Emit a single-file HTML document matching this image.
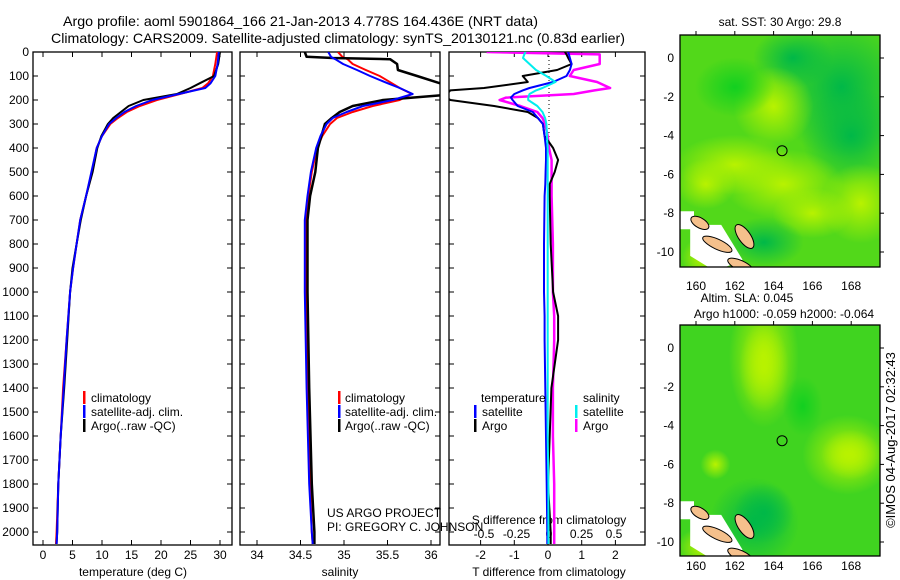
<!DOCTYPE html>
<html><head><meta charset="utf-8"><title>Argo profile</title>
<style>
html,body{margin:0;padding:0;background:#fff;}
svg{display:block;font-family:"Liberation Sans",Arial,sans-serif;}
</style></head>
<body>
<svg id="chart" width="900" height="580" viewBox="0 0 900 580" xmlns="http://www.w3.org/2000/svg">
<defs>
<clipPath id="c1"><rect x="33" y="52" width="199" height="493"/></clipPath>
<clipPath id="c2"><rect x="240" y="52" width="200" height="493"/></clipPath>
<clipPath id="c3"><rect x="449" y="52" width="196" height="493"/></clipPath>
<clipPath id="cm1"><rect x="680" y="35" width="200" height="232"/></clipPath>
<clipPath id="cm2"><rect x="680" y="325" width="200" height="231"/></clipPath>
<radialGradient id="gy1"><stop offset="0" stop-color="#b8f200"/><stop offset="1" stop-color="#b8f200" stop-opacity="0"/></radialGradient>
<radialGradient id="gd1"><stop offset="0" stop-color="#00b848"/><stop offset="1" stop-color="#00b848" stop-opacity="0"/></radialGradient>
<radialGradient id="gg1"><stop offset="0" stop-color="#12d020"/><stop offset="1" stop-color="#12d020" stop-opacity="0"/></radialGradient>
</defs>
<text x="63" y="26" font-size="14" textLength="475" lengthAdjust="spacingAndGlyphs">Argo profile: aoml 5901864_166 21-Jan-2013 4.778S 164.436E (NRT data)</text>
<text x="51" y="43" font-size="14" textLength="574" lengthAdjust="spacingAndGlyphs">Climatology: CARS2009. Satellite-adjusted climatology: synTS_20130121.nc (0.83d earlier)</text>
<g id="p1"></g>
<g id="p2"></g>
<g id="p3"></g>
<g id="m1"></g>
<g id="m2"></g>
<text transform="translate(895,440) rotate(-90)" text-anchor="middle" font-size="13">©IMOS 04-Aug-2017 02:32:43</text>
</svg>
<script>
// ---- data ----
const depthTicks = [0,100,200,300,400,500,600,700,800,900,1000,1100,1200,1300,1400,1500,1600,1700,1800,1900,2000];
const tempTicks = [0,5,10,15,20,25,30];
const salTicks = [34,34.5,35,35.5,36];
const salTickLabels = ["34","34.5","35","35.5","36"];
const tdiffTicks = [-2,-1,0,1,2];
const sdiffTicks = [-0.5,-0.25,0,0.25,0.5];
const sdiffTickLabels = ["-0.5","-0.25","0","0.25","0.5"];

const tempDepth = [0,50,100,130,150,175,200,225,250,275,300,350,400,500,600,700,800,900,1000,1200,1400,1600,1800,2000,2050];
const tempClim = [29.5,29.2,28.8,28.0,27.0,23.2,19.3,16.4,14.2,12.7,11.4,10.0,9.1,8.3,7.3,6.3,5.7,5.1,4.6,4.0,3.4,3.0,2.6,2.3,2.2];
const tempSat = [29.8,29.6,29.2,28.4,27.5,23.0,18.5,15.8,13.8,12.4,11.2,10.0,9.1,8.2,7.3,6.3,5.7,5.1,4.6,4.0,3.5,3.0,2.6,2.4,2.3];
const tempArgo = [30.0,29.7,29.0,26.6,25.0,22.7,17.0,14.5,13.2,11.9,11.0,9.9,9.2,8.4,7.3,6.4,5.7,5.0,4.6,4.1,3.6,3.0,2.6,2.4,2.3];

const salDepth = [0,20,25,30,50,75,100,130,150,175,200,225,250,275,300,350,400,500,600,700,1000,1400,1800,2000,2050];
const salClim = [34.93,34.98,35.01,35.04,35.10,35.25,35.41,35.55,35.64,35.78,35.64,35.33,35.10,34.92,34.84,34.75,34.69,34.63,34.59,34.56,34.56,34.58,34.61,34.63,34.64];
const salSat = [34.82,34.85,34.87,34.90,34.99,35.15,35.30,35.50,35.64,35.79,35.56,35.22,35.03,34.87,34.80,34.73,34.68,34.62,34.58,34.55,34.55,34.57,34.60,34.63,34.64];
const salArgo = [34.55,34.57,34.87,35.53,35.61,35.62,35.84,36.1,36.3,36.3,35.45,35.1,34.95,34.86,34.78,34.74,34.70,34.67,34.61,34.58,34.58,34.60,34.63,34.66,34.66];

const diffDepth = [0,10,25,50,75,100,125,150,160,175,190,200,225,250,275,300,350,400,450,500,550,600,800,1000,1100,1200,1400,1600,1800,2000,2050];
const tdiffSat = [0.6,0.62,0.65,0.7,0.65,0.55,0.15,-0.55,-0.75,-1.0,-1.1,-1.05,-0.9,-0.45,-0.3,-0.15,-0.1,-0.06,-0.06,-0.07,-0.08,-0.1,-0.12,-0.12,-0.1,-0.1,-0.08,-0.06,-0.04,-0.02,-0.02];
const tdiffArgo = [0.5,0.55,0.6,0.7,0.27,-0.75,-0.6,-1.9,-2.9,-3.0,-3.0,-2.9,-1.6,-0.6,-0.3,-0.15,-0.1,0.15,0.3,0.2,0.05,0.05,0.08,0.15,0.3,0.3,0.1,0.05,0.0,0.08,0.08];
const sdiffArgo = [-0.48,0.39,0.39,0.39,0.19,0.16,0.37,0.47,0.35,0.19,-0.33,-0.38,-0.22,-0.09,-0.05,-0.03,-0.01,0.0,0.02,0.02,0.02,0.02,0.03,0.03,0.04,0.04,0.03,0.03,0.04,0.04,0.04];
const sdiffSat = [-0.18,-0.19,-0.2,-0.15,-0.1,-0.02,0.05,-0.05,-0.1,-0.15,-0.16,-0.16,-0.09,-0.05,-0.03,-0.02,-0.015,-0.01,-0.01,-0.01,-0.01,-0.01,-0.01,-0.01,-0.01,-0.01,-0.01,-0.01,-0.005,-0.005,-0.005];

const lonTicks = [160,162,164,166,168];
const latTicks = [0,-2,-4,-6,-8,-10];
const floatLon = 164.436;
const floatLat = -4.778;

// ---- helpers ----
const NS = "http://www.w3.org/2000/svg";
function mk(tag, attrs, parent){ const e=document.createElementNS(NS,tag); for(const k in attrs) e.setAttribute(k,attrs[k]); parent.appendChild(e); return e; }
const yD = d => 52 + d*0.24;
const xT = t => 43 + t*5.9;
const xS = s => 257 + (s-34)*87;
const xTd = v => 548 + v*33.7;
const xSd = v => 549 + v*130;

function box(g,x0,x1,name){
  const r = mk('rect',{x:x0,y:52,width:x1-x0,height:493,fill:'none',stroke:'#000','stroke-width':1.3},g);
  
  
  depthTicks.forEach(d=>{
    mk('line',{x1:x0,x2:x0+5,y1:yD(d),y2:yD(d),stroke:'#000'},g);
    mk('line',{x1:x1-5,x2:x1,y1:yD(d),y2:yD(d),stroke:'#000'},g);
  });
}
function xaxis(g,ticks,labels,fx,y,name){
  ticks.forEach((t,i)=>{
    const x=fx(t);
    mk('line',{x1:x,x2:x,y1:545,y2:540,stroke:'#000'},g);
    mk('line',{x1:x,x2:x,y1:52,y2:57,stroke:'#000'},g);
    const tx=mk('text',{x:x,y:y,'text-anchor':'middle','font-size':12},g);
    tx.textContent=labels[i];
    
    
  });
}
function line(g,xs,ds,fx,color,w,clip,name){
  const pts = xs.map((v,i)=>fx(v).toFixed(1)+','+yD(ds[i]).toFixed(1)).join(' ');
  const p = mk('polyline',{points:pts,fill:'none',stroke:color,'stroke-width':w,'clip-path':'url(#'+clip+')','stroke-linejoin':'round'},g);
  
  
}
function label(g,x,y,txt,name,anchor){
  const t=mk('text',{x:x,y:y,'font-size':12,'text-anchor':anchor||'start'},g);
  t.textContent=txt;
  
  
  return t;
}
function legBar(g,x,y,color,name){
  const r=mk('rect',{x:x,y:y-11,width:2.5,height:13,fill:color},g);
  
  
}

// ---- panel 1 ----
const p1=document.getElementById('p1');
box(p1,33,232,'temperature-plot-frame');
depthTicks.forEach(d=>{ label(p1,29,yD(d)+4,String(d),'depth-tick-label','end'); });
xaxis(p1,tempTicks,tempTicks.map(String),xT,559,'temperature-tick-label');
label(p1,133,576,'temperature (deg C)','temperature-axis-title','middle');
line(p1,tempClim,tempDepth,xT,'#ff0000',2,'c1','temperature-climatology-line');
line(p1,tempArgo,tempDepth,xT,'#000000',2,'c1','temperature-argo-line');
line(p1,tempSat,tempDepth,xT,'#0000ff',2,'c1','temperature-satellite-line');
legBar(p1,83,402,'#ff0000','legend-climatology-swatch'); label(p1,91,402,'climatology','legend-climatology');
legBar(p1,83,416,'#0000ff','legend-satellite-swatch'); label(p1,91,416,'satellite-adj. clim.','legend-satellite');
legBar(p1,83,430,'#000000','legend-argo-swatch'); label(p1,91,430,'Argo(..raw -QC)','legend-argo');

// ---- panel 2 ----
const p2=document.getElementById('p2');
box(p2,240,440,'salinity-plot-frame');
xaxis(p2,salTicks,salTickLabels,xS,559,'salinity-tick-label');
label(p2,340,576,'salinity','salinity-axis-title','middle');
line(p2,salClim,salDepth,xS,'#ff0000',2,'c2','salinity-climatology-line');
line(p2,salArgo,salDepth,xS,'#000000',2.5,'c2','salinity-argo-line');
line(p2,salSat,salDepth,xS,'#0000ff',2,'c2','salinity-satellite-line');
legBar(p2,338,402,'#ff0000','legend-climatology-swatch'); label(p2,345,402,'climatology','legend-climatology');
legBar(p2,338,416,'#0000ff','legend-satellite-swatch'); label(p2,345,416,'satellite-adj. clim.','legend-satellite');
legBar(p2,338,430,'#000000','legend-argo-swatch'); label(p2,345,430,'Argo(..raw -QC)','legend-argo');
label(p2,327,517,'US ARGO PROJECT','project-credit');
label(p2,327,531,'PI: GREGORY C. JOHNSON','pi-credit');

// ---- panel 3 ----
const p3=document.getElementById('p3');
box(p3,449,645,'difference-plot-frame');
mk('line',{x1:549,x2:549,y1:52,y2:yD(400),stroke:'#000','stroke-dasharray':'1,3'},p3);
xaxis(p3,tdiffTicks,tdiffTicks.map(String),xTd,559,'t-difference-tick-label');
sdiffTicks.forEach((v,i)=>{ label(p3,xSd(v),538,sdiffTickLabels[i],'s-difference-tick-label','middle'); });
label(p3,549,524,'S difference from climatology','s-difference-axis-title','middle');
label(p3,549,576,'T difference from climatology','t-difference-axis-title','middle');
line(p3,sdiffArgo,diffDepth,xSd,'#ff00ff',2.5,'c3','salinity-argo-difference-line');
line(p3,tdiffArgo,diffDepth,xTd,'#000000',2,'c3','temperature-argo-difference-line');
line(p3,tdiffSat,diffDepth,xTd,'#0000ff',2,'c3','temperature-satellite-difference-line');
line(p3,sdiffSat,diffDepth,xSd,'#00eeee',2,'c3','salinity-satellite-difference-line');
label(p3,481,402,'temperature','legend-temperature-heading');
label(p3,583,402,'salinity','legend-salinity-heading');
legBar(p3,474,416,'#0000ff','legend-t-satellite-swatch'); label(p3,482,416,'satellite','legend-t-satellite');
legBar(p3,474,430,'#000000','legend-t-argo-swatch'); label(p3,482,430,'Argo','legend-t-argo');
legBar(p3,575,416,'#00eeee','legend-s-satellite-swatch'); label(p3,583,416,'satellite','legend-s-satellite');
legBar(p3,575,430,'#ff00ff','legend-s-argo-swatch'); label(p3,583,430,'Argo','legend-s-argo');

// ---- maps ----
function map(g,top,bottom,lat0y,clip,base,blobs,labelY){
  const px = lon => 696 + (lon-160)*19.4;
  const py = lat => lat0y - lat*19.4;
  const bg=mk('rect',{x:680,y:top,width:200,height:bottom-top,fill:base},g);
  
  
  const cg=mk('g',{'clip-path':'url(#'+clip+')'},g);
  blobs.forEach(b=>{ mk('ellipse',{cx:px(b[0]),cy:py(b[1]),rx:b[2],ry:b[3],fill:'url(#'+b[4]+')'},cg); });
  // coast white patches & islands (Solomon Is.)
  mk('rect',{x:680,y:py(-7.9),width:14,height:18,fill:'#fff'},cg);
  mk('polygon',{points:(px(159.7))+','+py(-8.6)+' '+px(161.3)+','+py(-8.6)+' '+px(162.4)+','+py(-10.4)+' '+px(161)+','+py(-11)+' '+px(159.7)+','+py(-10.2),fill:'#fff'},cg);
  [[160.2,-8.5,10,5,30],[161.1,-9.6,16,5,25],[162.5,-9.2,6,14,-35],[162.3,-10.7,14,5,25]].forEach(s=>{
    const e=mk('ellipse',{cx:px(s[0]),cy:py(s[1]),rx:s[2],ry:s[3],fill:'#f5c08c',stroke:'#000','stroke-width':1,transform:'rotate('+s[4]+' '+px(s[0])+' '+py(s[1])+')'},cg);
    
    
  });
  const fr=mk('rect',{x:680,y:top,width:200,height:bottom-top,fill:'none',stroke:'#000','stroke-width':1.3},g);
  
  
  lonTicks.forEach(l=>{
    mk('line',{x1:px(l),x2:px(l),y1:top,y2:top-4,stroke:'#000'},g);
    label(g,px(l),labelY,String(l),'longitude-tick-label','middle');
  });
  latTicks.forEach(l=>{
    mk('line',{x1:880,x2:884,y1:py(l),y2:py(l),stroke:'#000'},g);
    label(g,674,py(l)+4,String(l),'latitude-tick-label','end');
  });
  const c=mk('circle',{cx:px(floatLon),cy:py(floatLat),r:5,fill:'none',stroke:'#000','stroke-width':1},g);
  
  
}
const m1=document.getElementById('m1');
label(m1,780,26,'sat. SST: 30 Argo: 29.8','sst-map-title','middle');
map(m1,35,267,58,'cm1','#52d81a',[
  [167.5,-1.5,70,70,'gd1'],[168,-4,50,50,'gd1'],[165,0,40,30,'gd1'],[164,-2.5,40,40,'gy1'],[162,-5.5,60,30,'gy1'],
  [164.5,-6.5,60,35,'gy1'],[168.5,-7.5,40,40,'gy1'],[166,-8,40,25,'gy1'],[160.5,-6.5,30,25,'gy1'],[162,-1.5,40,30,'gg1'],[163.5,-9.5,40,25,'gd1'],[160.3,-10.3,20,20,'gy1']
],290);
const m2=document.getElementById('m2');
label(m2,747,302,'Altim. SLA: 0.045','sla-map-title-line-1','middle');
label(m2,784,318,'Argo h1000: -0.059 h2000: -0.064','sla-map-title-line-2','middle');
map(m2,325,556,348,'cm2','#40d420',[
  [163.5,-0.5,35,70,'gy1'],[163.5,-1,25,45,'gy1'],[167.8,-5.5,45,40,'gy1'],[168,-5.5,30,25,'gy1'],
  [161,-6,15,15,'gy1'],[163,-9,45,45,'gd1'],[163.5,-8.5,30,30,'gd1'],[160.3,-10.3,25,20,'gy1'],[165.5,-3,20,30,'gg1']
],570);
</script>
</body></html>
